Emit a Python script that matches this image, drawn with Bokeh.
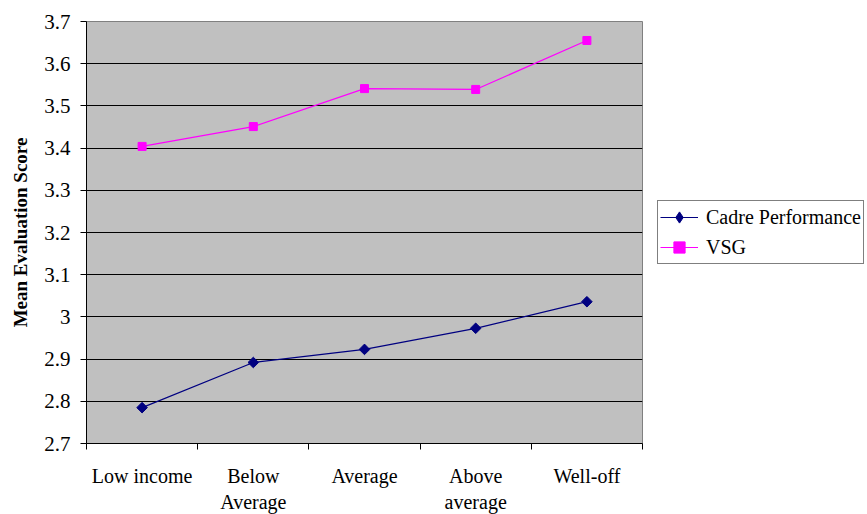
import math
from bokeh.plotting import figure
from bokeh.models import FixedTicker, Legend, LegendItem, Range1d
from bokeh.embed import file_html
from bokeh.resources import INLINE

categories = ["Low income", "Below\nAverage", "Average", "Above\naverage", "Well-off"]
cadre_performance = [2.785, 2.892, 2.923, 2.973, 3.036]
vsg = [3.404, 3.451, 3.541, 3.539, 3.655]
y_ticks = [2.7, 2.8, 2.9, 3.0, 3.1, 3.2, 3.3, 3.4, 3.5, 3.6, 3.7]
y_tick_labels = ["2.7", "2.8", "2.9", "3", "3.1", "3.2", "3.3", "3.4", "3.5", "3.6", "3.7"]

FONT = "Liberation Serif"
NAVY = "#000080"
MAGENTA = "#FF00FF"
x_pos = list(range(1, len(categories) + 1))

p = figure(frame_width=556, frame_height=422, output_backend="svg", toolbar_location=None,
           x_range=Range1d(0.5, len(categories) + 0.5), y_range=Range1d(2.7, 3.7),
           min_border_left=86, min_border_top=21, min_border_right=0, min_border_bottom=69)

p.background_fill_color = "#C0C0C0"
p.border_fill_color = "white"
p.outline_line_color = "#808080"
p.outline_line_width = 1

# X axis
p.xaxis.ticker = FixedTicker(ticks=x_pos, minor_ticks=[i + 0.5 for i in range(0, len(categories) + 1)])
p.xaxis.major_label_overrides = {x: c for x, c in zip(x_pos, categories)}
p.xaxis.major_tick_line_color = None
p.xaxis.minor_tick_line_color = "black"
p.xaxis.minor_tick_in = 0
p.xaxis.minor_tick_out = 6
p.xaxis.axis_line_color = "black"
p.xaxis.major_label_text_font = FONT
p.xaxis.major_label_text_font_size = "20px"
p.xaxis.major_label_text_color = "black"
p.xaxis.major_label_standoff = 15

# Y axis
p.yaxis.ticker = FixedTicker(ticks=y_ticks, minor_ticks=[])
p.yaxis.major_label_overrides = {t: l for t, l in zip(y_ticks, y_tick_labels)}
p.yaxis.major_tick_in = 0
p.yaxis.major_tick_out = 6
p.yaxis.major_tick_line_color = "black"
p.yaxis.axis_line_color = "black"
p.yaxis.major_label_text_font = FONT
p.yaxis.major_label_text_font_size = "21px"
p.yaxis.major_label_text_color = "black"
p.yaxis.major_label_standoff = 10
p.yaxis.axis_label = "Mean Evaluation Score"
p.yaxis.axis_label_text_font = FONT
p.yaxis.axis_label_text_font_style = "bold"
p.yaxis.axis_label_text_font_size = "19px"
p.yaxis.axis_label_text_color = "black"
p.yaxis.axis_label_standoff = 10

p.xgrid.grid_line_color = None
p.ygrid.ticker = FixedTicker(ticks=y_ticks)
p.ygrid.grid_line_color = "black"
p.ygrid.grid_line_width = 1

l1 = p.line(x_pos, cadre_performance, line_color=NAVY, line_width=1.2)
# small diamond used as legend key (hidden beneath the plotted markers)
s1_key = p.scatter(x_pos, cadre_performance, marker="diamond", size=9, fill_color=NAVY, line_color=NAVY)
s1 = p.scatter(x_pos, cadre_performance, marker="square", angle=math.pi / 4, size=7.5,
               fill_color=NAVY, line_color=NAVY)
l2 = p.line(x_pos, vsg, line_color=MAGENTA, line_width=1.2)
s2 = p.scatter(x_pos, vsg, marker="square", size=8, fill_color=MAGENTA, line_color=MAGENTA)

legend = Legend(items=[LegendItem(label="Cadre Performance", renderers=[l1, s1_key]),
                       LegendItem(label="VSG", renderers=[l2, s2])],
                location=(15, 179))
legend.label_text_font = FONT
legend.label_text_font_size = "20px"
legend.label_text_color = "black"
legend.border_line_color = "black"
legend.border_line_width = 1
legend.background_fill_color = "white"
legend.background_fill_alpha = 1
legend.glyph_width = 38
legend.glyph_height = 28
legend.label_height = 28
legend.label_standoff = 8
legend.padding = 2
legend.spacing = 2
legend.margin = 0
p.add_layout(legend, "right")

open("out.html", "w").write(file_html(p, INLINE))
